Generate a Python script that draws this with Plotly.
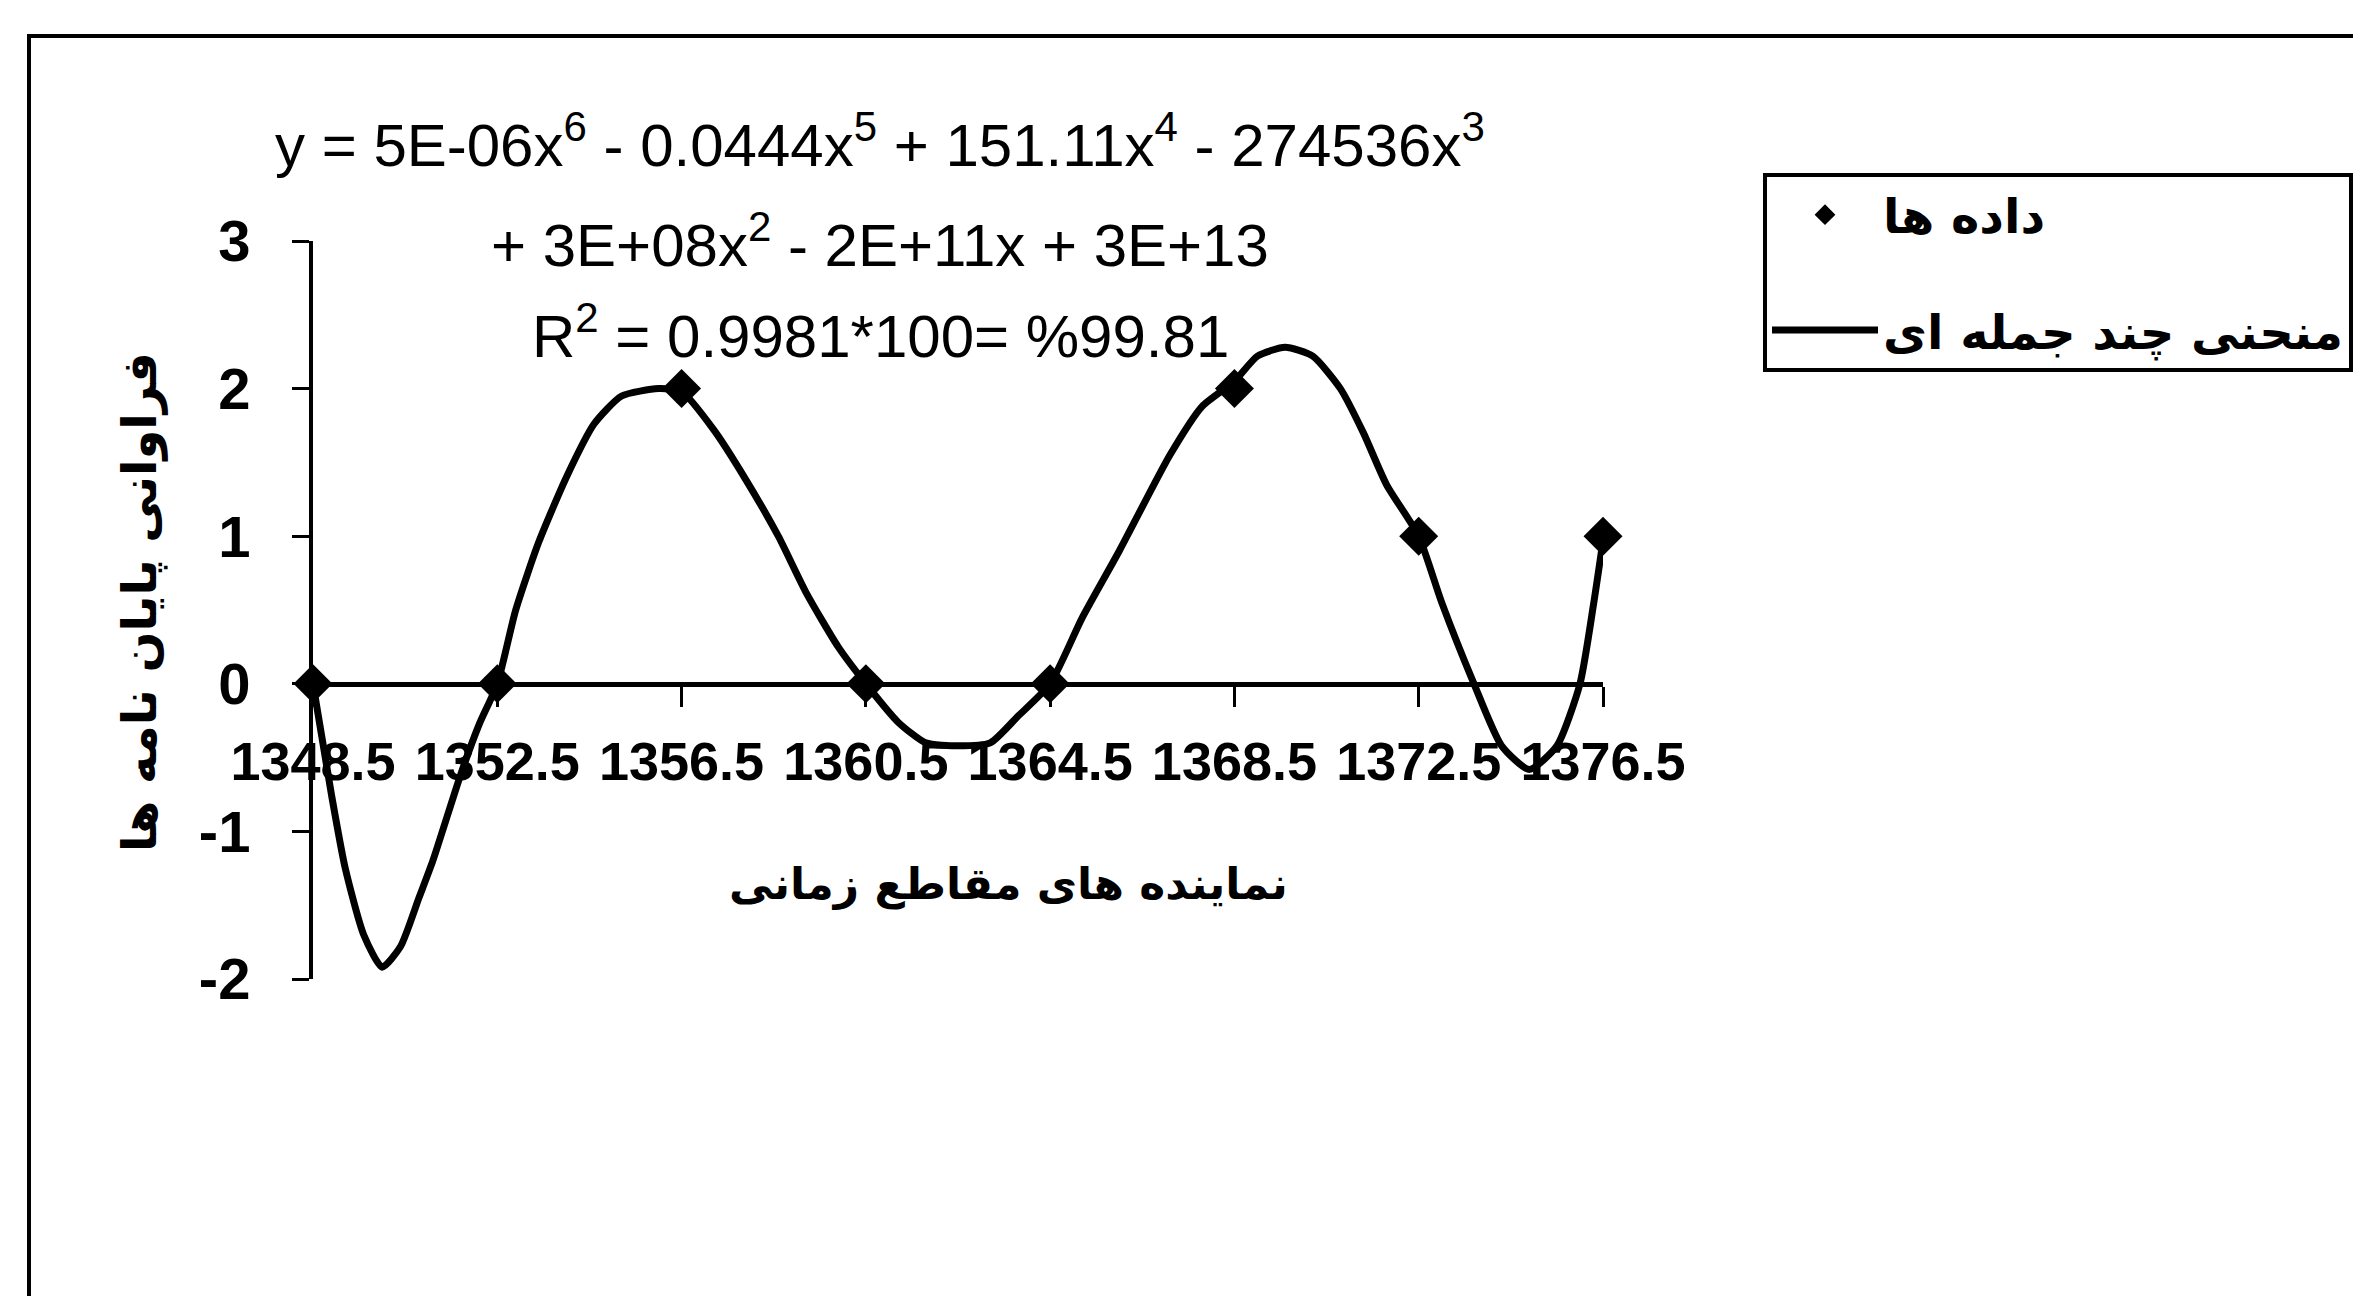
import plotly.graph_objects as go

W, H = 2361, 1296

# puntos observados
x_datos = [1348.5, 1352.5, 1356.5, 1360.5, 1364.5, 1368.5, 1372.5, 1376.5]
y_datos = [0, 0, 2, 0, 0, 2, 1, 1]
etiquetas_x = ["1348.5", "1352.5", "1356.5", "1360.5", "1364.5", "1368.5", "1372.5", "1376.5"]
ticks_y = [-2, -1, 0, 1, 2, 3]
etiquetas_y = ["-2", "-1", "0", "1", "2", "3"]

# curva polinomica
x_curva = [1348.5, 1348.9, 1349.2, 1349.6, 1350.0, 1350.4, 1350.8, 1351.1, 1351.7, 1352.1,
           1352.5, 1352.9, 1353.4, 1354.0, 1354.6, 1355.2, 1356.0, 1356.5, 1357.2, 1357.9,
           1358.6, 1359.2, 1359.9, 1360.5, 1361.2, 1361.8, 1362.5, 1363.2, 1363.8, 1364.5,
           1365.2, 1366.0, 1367.1, 1367.8, 1368.5, 1369.0, 1369.6, 1370.2, 1370.8, 1371.3,
           1371.8, 1372.5, 1373.0, 1373.7, 1374.3, 1374.9, 1375.5, 1376.0, 1376.3, 1376.5]
y_curva = [0.0, -0.75, -1.25, -1.70, -1.92, -1.78, -1.45, -1.20, -0.62, -0.28,
           0.0, 0.50, 0.96, 1.40, 1.76, 1.95, 2.0, 1.98, 1.72, 1.38,
           1.00, 0.62, 0.25, 0.0, -0.26, -0.40, -0.42, -0.40, -0.22, 0.0,
           0.45, 0.90, 1.55, 1.88, 2.05, 2.22, 2.28, 2.22, 2.00, 1.70,
           1.35, 1.00, 0.55, 0.0, -0.42, -0.58, -0.42, 0.0, 0.55, 0.97]

ecuacion = [
    "y = 5E-06x<sup>6</sup> - 0.0444x<sup>5</sup> + 151.11x<sup>4</sup> - 274536x<sup>3</sup>",
    "+ 3E+08x<sup>2</sup> - 2E+11x + 3E+13",
    "R<sup>2</sup> = 0.9981*100= %99.81",
]

titulo_x = "نماینده های مقاطع زمانی"
titulo_y = "فراوانی پایان نامه ها"
nombre_datos = "داده ها"
nombre_curva = "منحنی چند جمله ای"


def px_x(p):
    return p / W


def px_y(p):
    return 1 - p / H


fuente_num = "Liberation Sans, Arial, sans-serif"
fuente_fa = "DejaVu Sans, Noto Sans, sans-serif"

dominio_y = [px_y(971), px_y(233)]
rango_y = [-2, 3]
# eje x cruzando en y = 0
pos_x = dominio_y[0] + (0 - rango_y[0]) / (rango_y[1] - rango_y[0]) * (dominio_y[1] - dominio_y[0])

fig = go.Figure()

fig.add_trace(go.Scatter(
    x=x_curva, y=y_curva, mode="lines",
    line=dict(color="black", width=7, shape="spline", smoothing=0.6),
    name="<b>" + nombre_curva + "</b>", legendrank=2, legendgroup="curva",
    cliponaxis=False,
))

fig.add_trace(go.Scatter(
    x=x_datos, y=y_datos, mode="markers",
    marker=dict(symbol="diamond", size=30, color="black"),
    name="<b>" + nombre_datos + "</b>", legendrank=1, legendgroup="datos",
    cliponaxis=False,
))

anotaciones = []
for texto, yy in zip(ecuacion, [133, 233, 324]):
    anotaciones.append(dict(
        text=texto, x=px_x(872), y=px_y(yy), xref="paper", yref="paper",
        xanchor="center", yanchor="middle", showarrow=False,
        font=dict(family=fuente_num, size=60, color="black"),
    ))

anotaciones.append(dict(
    text="<b>" + titulo_x + "</b>", x=px_x(1000), y=px_y(876), xref="paper", yref="paper",
    xanchor="center", yanchor="middle", showarrow=False,
    font=dict(family=fuente_fa, size=44, color="black"),
))
anotaciones.append(dict(
    text="<b>" + titulo_y + "</b>", x=px_x(132), y=px_y(594), xref="paper", yref="paper",
    xanchor="center", yanchor="middle", showarrow=False, textangle=-90,
    font=dict(family=fuente_fa, size=48, color="black"),
))

fig.update_layout(
    width=W, height=H,
    margin=dict(l=0, r=0, t=0, b=0, autoexpand=False),
    paper_bgcolor="white", plot_bgcolor="white",
    annotations=anotaciones,
    showlegend=True,
    legend=dict(
        x=px_x(1755), y=px_y(165), xanchor="left", yanchor="top",
        bordercolor="black", borderwidth=4, bgcolor="white",
        font=dict(family=fuente_fa, size=48, color="black"),
        itemwidth=106, traceorder="grouped", tracegroupgap=50,
    ),
    shapes=[dict(
        type="rect", xref="paper", yref="paper",
        x0=px_x(21), y0=-0.2, x1=1.2, y1=px_y(28),
        line=dict(color="black", width=4),
    )],
    xaxis=dict(
        domain=[px_x(305), px_x(1595)],
        range=[1348.5, 1376.5],
        anchor="free", position=pos_x, automargin=False,
        showline=True, linecolor="black", linewidth=5,
        ticks="outside", ticklen=20, tickwidth=3, tickcolor="black",
        tickvals=x_datos, ticktext=etiquetas_x, tickangle=0,
        tickfont=dict(family=fuente_num, size=54, color="black", weight="bold"),
        ticklabelstandoff=8,
        showgrid=False, zeroline=False,
    ),
    yaxis=dict(
        domain=dominio_y,
        range=rango_y, automargin=False,
        showline=True, linecolor="black", linewidth=4,
        ticks="outside", ticklen=17, tickwidth=3, tickcolor="black",
        tickvals=ticks_y, ticktext=etiquetas_y,
        tickfont=dict(family=fuente_num, size=58, color="black", weight="bold"),
        ticklabelstandoff=30,
        showgrid=False, zeroline=False,
    ),
)

fig.write_html("out.html")
